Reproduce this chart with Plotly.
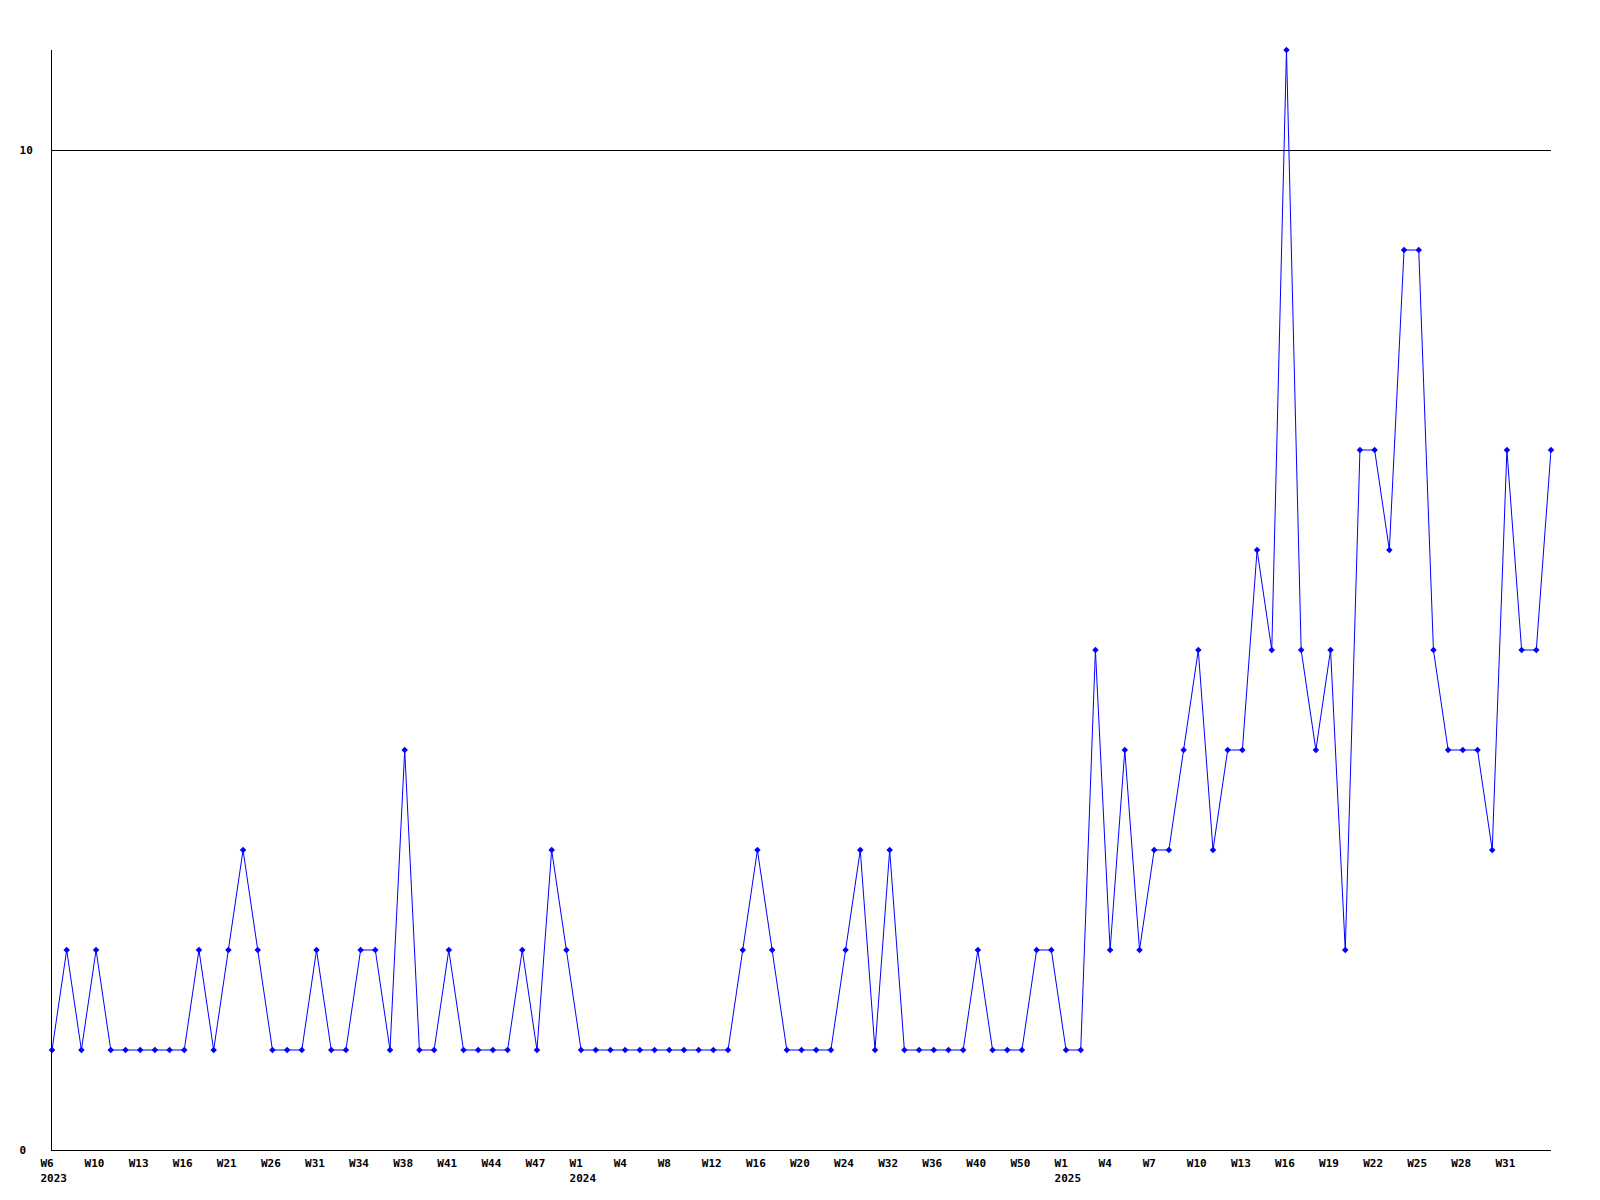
import plotly.graph_objects as go

# weekly counts (one point per week with data)
values = [1, 2, 1, 2, 1, 1, 1, 1, 1, 1,
          2, 1, 2, 3, 2, 1, 1, 1, 2, 1,
          1, 2, 2, 1, 4, 1, 1, 2, 1, 1,
          1, 1, 2, 1, 3, 2, 1, 1, 1, 1,
          1, 1, 1, 1, 1, 1, 1, 2, 3, 2,
          1, 1, 1, 1, 2, 3, 1, 3, 1, 1,
          1, 1, 1, 2, 1, 1, 1, 2, 2, 1,
          1, 5, 2, 4, 2, 3, 3, 4, 5, 3,
          4, 4, 6, 5, 11, 5, 4, 5, 2, 7,
          7, 6, 9, 9, 5, 4, 4, 4, 3, 7,
          5, 5, 7]

# tick labels, shown at every third point
tick_labels = ["W6<br>2023", "W10", "W13", "W16", "W21", "W26", "W31", "W34",
               "W38", "W41", "W44", "W47", "W1<br>2024", "W4", "W8", "W12",
               "W16", "W20", "W24", "W32", "W36", "W40", "W50", "W1<br>2025",
               "W4", "W7", "W10", "W13", "W16", "W19", "W22", "W25", "W28", "W31"]
tick_step = 3

y_ticks = [0, 10]
y_tick_text = ["0\u00a0", "10"]

x = list(range(len(values)))
tick_positions = list(range(0, len(tick_labels) * tick_step, tick_step))

font_family = "DejaVu Sans Mono"

fig = go.Figure()
fig.add_trace(go.Scatter(
    x=x, y=values, mode="lines+markers",
    line=dict(color="#0000FF", width=1),
    marker=dict(symbol="diamond", size=5, color="#0000FF"),
    cliponaxis=False,
    showlegend=False,
))

# page body has an 8px default margin, so the figure is sized to fit the window
fig.update_layout(
    width=1592, height=1192,
    paper_bgcolor="white", plot_bgcolor="white",
    margin=dict(l=42, r=49, t=42, b=50),
    font=dict(family=font_family, size=11, color="black"),
)
fig.update_xaxes(
    range=[0, len(values) - 1],
    tickmode="array", tickvals=tick_positions, ticktext=tick_labels,
    showgrid=False, zeroline=False,
    showline=True, linecolor="black", linewidth=1,
    ticks="", ticklabelposition="outside right", ticklabelshift=-12,
    ticklabelstandoff=3,
    tickfont=dict(family=font_family, size=11, color="black", weight="bold"),
)
fig.update_yaxes(
    range=[0, 11],
    tickmode="array", tickvals=y_ticks, ticktext=y_tick_text,
    showgrid=True, gridcolor="black", gridwidth=1,
    zeroline=False,
    showline=True, linecolor="black", linewidth=1,
    ticks="", ticklabelstandoff=16,
    tickfont=dict(family=font_family, size=11, color="black", weight="bold"),
)

fig.write_html("out.html")
